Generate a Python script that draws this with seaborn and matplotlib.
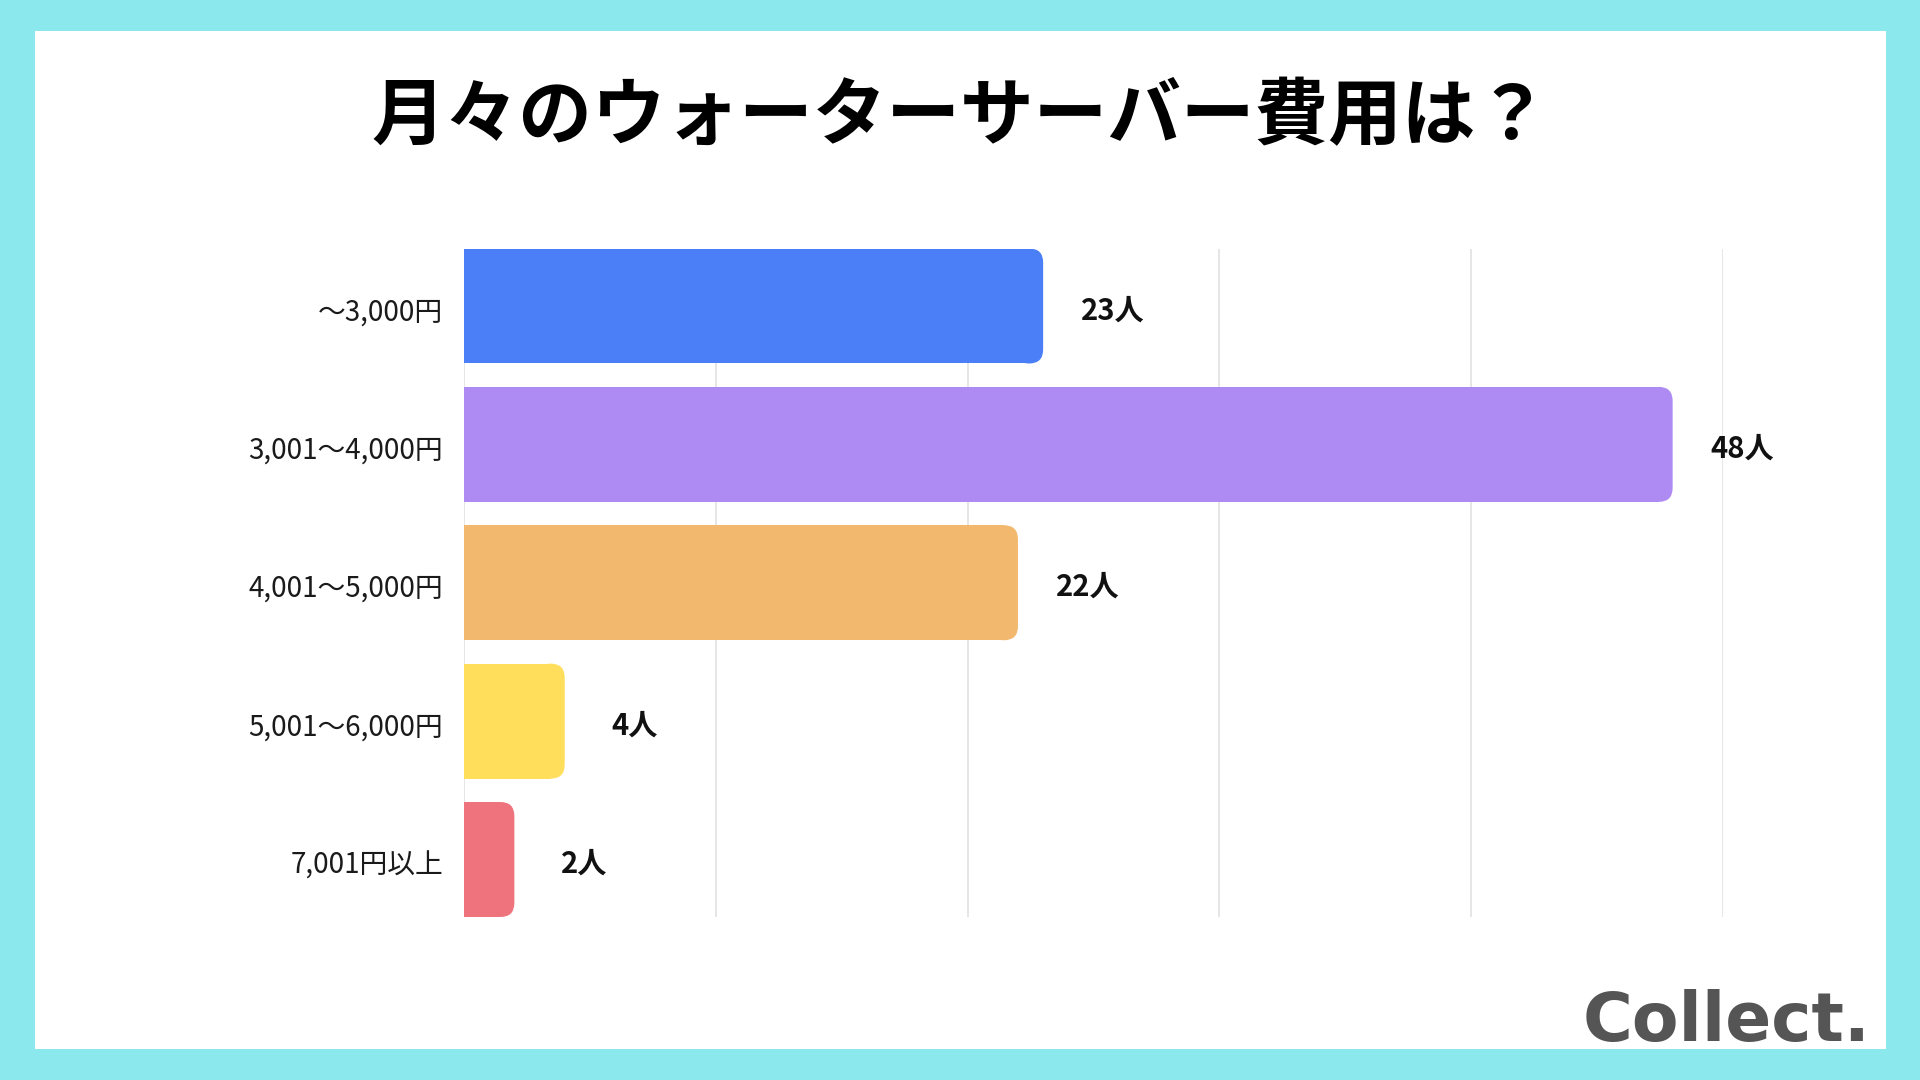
import numpy as np
import pandas as pd
import seaborn as sns
import matplotlib.pyplot as plt
from matplotlib.patches import Rectangle, FancyBboxPatch
from matplotlib.transforms import IdentityTransform, ScaledTranslation

# データ
categories = ['〜3,000円', '3,001〜4,000円', '4,001〜5,000円', '5,001〜6,000円', '7,001円以上']
counts = [23, 48, 22, 4, 2]
bar_colors = ['#4A7FF7', '#AE8BF3', '#F2B86D', '#FFDE5C', '#EF737C']
title = '月々のウォーターサーバー費用は？'

df = pd.DataFrame({'range': categories, 'count': counts})

sns.set_theme(style='white')
plt.rcParams['font.family'] = ['Noto Sans CJK JP', 'DejaVu Sans']

fig = plt.figure(figsize=(19.2, 10.8), dpi=100, facecolor='#8BE9ED')
# 白い背景パネル
fig.add_artist(Rectangle((35 / 1920, 1 - 1049 / 1080), (1886 - 35) / 1920, (1049 - 31) / 1080,
                         transform=fig.transFigure, facecolor='white', edgecolor='none', zorder=-1))

ax = fig.add_axes([464 / 1920, 1 - 917 / 1080, 1259 / 1920, 668.5 / 1080])
ax.set_facecolor('white')

bar_w = 0.831
sns.barplot(data=df, x='count', y='range', hue='range', palette=bar_colors,
            orient='h', width=bar_w, legend=False, saturation=1, linewidth=0, ax=ax)

ax.set_xlim(0, 50)
ax.set_ylim(len(categories) - 1 + bar_w / 2, -bar_w / 2)
ax.set_xticks(np.arange(0, 51, 10))
ax.set_xticklabels([])
ax.grid(axis='x', color='#E2E2E2', linewidth=1.2)
ax.grid(axis='y', visible=False)
ax.set_axisbelow(True)
for s in ax.spines.values():
    s.set_visible(False)
ax.tick_params(axis='both', length=0)
ax.tick_params(axis='y', pad=15, labelsize=20, labelcolor='#1a1a1a')
ax.set_xlabel('')
ax.set_ylabel('')
shift = ScaledTranslation(0, -2 / 72, fig.dpi_scale_trans)
for lbl in ax.get_yticklabels():
    lbl.set_transform(lbl.get_transform() + shift)

# 右側だけ角丸にする (ピクセル座標で描く)
rad = 14
for p in list(ax.patches):
    x0, y0, w, h = p.get_x(), p.get_y(), p.get_width(), p.get_height()
    (dx0, dy0), (dx1, dy1) = ax.transData.transform([(x0, y0), (x0 + w, y0 + h)])
    left, right = min(dx0, dx1), max(dx0, dx1)
    bottom, top = min(dy0, dy1), max(dy0, dy1)
    fc = p.get_facecolor()
    p.set_width(w - rad / (right - left) * w)
    patch = FancyBboxPatch((right - 2 * rad, bottom), 2 * rad, top - bottom,
                           boxstyle=f'round,pad=0,rounding_size={rad}',
                           facecolor=fc, edgecolor='none', zorder=p.get_zorder(),
                           transform=IdentityTransform())
    ax.add_patch(patch)

for i, v in enumerate(counts):
    ax.annotate(f'{v}人', xy=(v, i), xytext=(50, -3), textcoords='offset points',
                ha='center', va='center', fontsize=21, fontweight='bold', color='#111111')

fig.text(0.5, 1 - 118 / 1080, title, ha='center', va='center',
         fontsize=53, fontweight='bold', color='#000000')

fig.text(1871 / 1920, 1 - 1041 / 1080, 'Collect.', ha='right', va='baseline',
         fontsize=49, fontweight='bold', color='#555555', family='DejaVu Sans')

fig.savefig('out.png', dpi=100, facecolor=fig.get_facecolor())
